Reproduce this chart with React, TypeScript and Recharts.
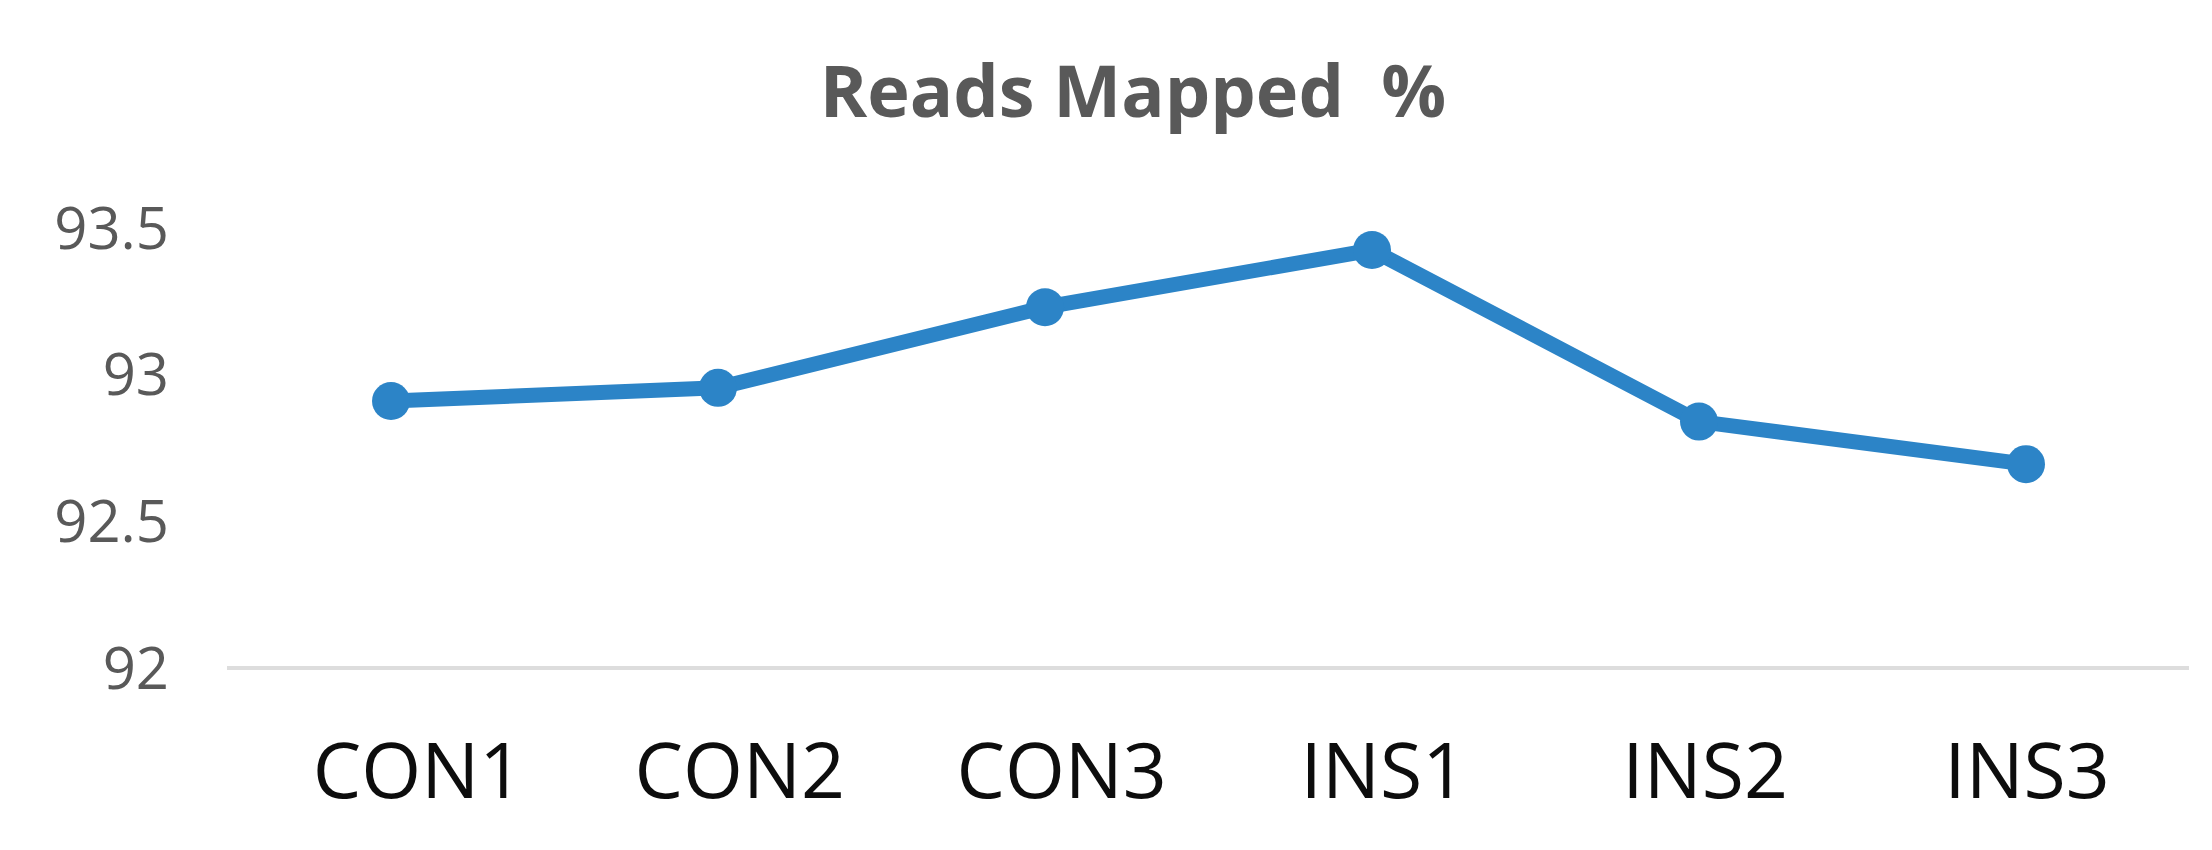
import { CartesianGrid, Line, LineChart, XAxis, YAxis } from "recharts";

const samples = ["CON1", "CON2", "CON3", "INS1", "INS2", "INS3"];
const mappedPct = [92.91, 92.955, 93.23, 93.425, 92.84, 92.695];
const yTicks = [92, 92.5, 93, 93.5];

const data = samples.map((name, i) => ({ name, value: mappedPct[i] }));

const BLUE = "#2C84C7";
const FONT = "'Open Sans', 'Noto Sans', sans-serif";

const renderSampleTick = ({
  x,
  y,
  index,
  payload,
}: {
  x: number;
  y: number;
  index: number;
  payload: { value: string };
}) => (
  // labels in the original sit slightly right of the points, drifting back toward INS3
  <text
    x={x + 27 - 5.2 * index}
    y={y}
    dy={122}
    textAnchor="middle"
    fill="#0D0D0D"
    fontSize={77}
    fontFamily={FONT}
  >
    {payload.value}
  </text>
);

export default function App() {
  return (
    <div
      style={{
        position: "absolute",
        left: 0,
        top: 0,
        width: 2212,
        height: 850,
        background: "#fff",
      }}
    >
      <div
        style={{
          position: "absolute",
          left: 0,
          top: 53,
          width: 2266,
          textAlign: "center",
          fontFamily: FONT,
          fontWeight: 700,
          fontSize: 72,
          lineHeight: "72px",
          color: "#595959",
          whiteSpace: "pre",
        }}
      >
        Reads Mapped  %
      </div>
      <LineChart
        width={2212}
        height={850}
        data={data}
        margin={{ top: 228, right: 23, left: 0, bottom: 0 }}
      >
        <CartesianGrid horizontal={false} vertical={false} />
        <XAxis
          dataKey="name"
          axisLine={{ stroke: "#DDDDDD", strokeWidth: 4 }}
          tickLine={false}
          tick={renderSampleTick as unknown as undefined}
          interval={0}
          height={182}
          padding={{ left: 164, right: 163 }}
        />
        <YAxis
          domain={[92, 93.5]}
          ticks={yTicks}
          axisLine={false}
          tickLine={false}
          width={227}
          tickMargin={52}
          tick={{ fill: "#595959", fontSize: 58, fontFamily: FONT }}
        />
        <Line
          dataKey="value"
          stroke={BLUE}
          strokeWidth={15}
          dot={{ r: 19, fill: BLUE, stroke: BLUE, strokeWidth: 0 }}
          activeDot={false}
          isAnimationActive={false}
        />
      </LineChart>
    </div>
  );
}
